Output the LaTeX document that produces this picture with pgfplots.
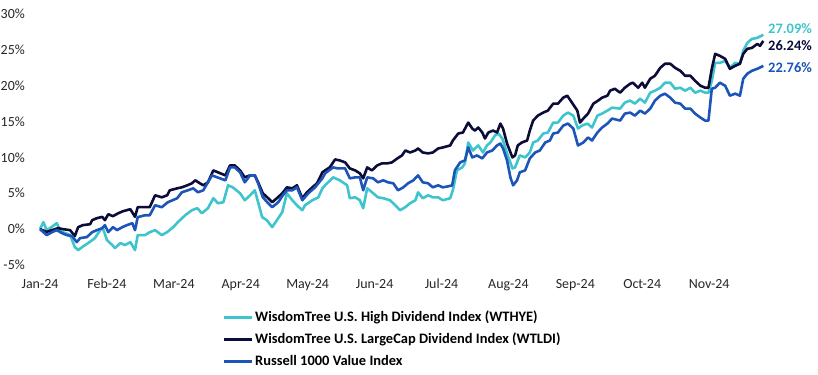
\documentclass[border=0pt]{standalone}
\usepackage{pgfplots}
\pgfplotsset{compat=1.18}
\usepackage{fontspec}
\setmainfont{Carlito}
\definecolor{cLight}{RGB}{62,196,204}
\definecolor{cDark}{RGB}{12,12,56}
\definecolor{cBlue}{RGB}{28,84,184}
\begin{document}
\begin{tikzpicture}
\begin{axis}[
  scale only axis, width=730bp, height=251bp,
  xmin=-0.06, xmax=10.85, ymin=-5, ymax=30,
  axis x line*=bottom, axis y line*=left,
  axis line style={draw=none}, tick style={draw=none},
  xtick={0,1,2,3,4,5,6,7,8,9,10},
  xticklabels={Jan-24,Feb-24,Mar-24,Apr-24,May-24,Jun-24,Jul-24,Aug-24,Sep-24,Oct-24,Nov-24},
  ytick={-5,0,5,10,15,20,25,30},
  yticklabels={-5\%,0\%,5\%,10\%,15\%,20\%,25\%,30\%},
  tick label style={font=\fontsize{14}{16}\selectfont, text=black!85, inner sep=0pt},
  yticklabel style={anchor=east, xshift=-11bp},
  xticklabel style={anchor=north, yshift=-14bp},
  clip=false,
  every axis plot/.append style={line width=2.6bp, line join=round, mark=none},
  legend image code/.code={\draw[#1] (0bp,0bp) -- (28bp,0bp);},
  legend style={at={(rel axis cs:0.256,-0.183)}, anchor=north west, draw=none, fill=none,
    inner sep=0pt, row sep=9bp, font=\fontsize{14.5}{16}\bfseries,
    nodes={inner xsep=1.5bp, inner ysep=0pt, text height=10bp, text depth=3bp},
    cells={anchor=west}},
  legend cell align=left,
]
\addplot[color=cLight] coordinates {
(0,0) (0.05,0.97) (0.10,-0.14) (0.15,0.14) (0.25,0.83) (0.30,-0.14) (0.34,-0.42) (0.45,-0.83) (0.52,-2.5) (0.57,-2.92) (0.63,-2.5) (0.72,-1.94) (0.78,-1.53) (0.82,-1.25) (0.90,-0.14) (0.94,0.14) (1.00,-1.53) (1.08,-2.22) (1.12,-2.64) (1.20,-1.94) (1.27,-2.22) (1.35,-1.81) (1.42,-2.92) (1.46,-0.83) (1.57,-0.83) (1.64,-0.42) (1.72,-0.14) (1.82,-0.83) (1.90,-0.42) (1.99,0.28) (2.06,0.97) (2.17,1.94) (2.27,2.64) (2.35,2.92) (2.42,2.22) (2.51,2.92) (2.59,4.31) (2.66,3.61) (2.74,3.75) (2.81,6.11) (2.88,5.83) (2.99,5.0) (3.06,4.03) (3.14,4.72) (3.21,5.42) (3.26,3.75) (3.32,1.67) (3.39,1.25) (3.47,0.28) (3.54,1.25) (3.62,2.36) (3.69,5.0) (3.77,4.03) (3.84,3.33) (3.92,2.64) (3.96,3.33) (4.07,4.03) (4.16,4.44) (4.22,5.69) (4.26,6.11) (4.38,7.22) (4.48,6.81) (4.59,6.11) (4.63,4.31) (4.71,4.44) (4.78,4.03) (4.83,2.92) (4.89,5.69) (4.98,5.0) (5.05,4.44) (5.13,4.31) (5.23,4.03) (5.31,3.33) (5.38,2.64) (5.46,3.06) (5.53,3.61) (5.61,4.03) (5.65,5.14) (5.72,4.31) (5.80,4.72) (5.87,4.44) (5.95,4.44) (6.02,4.03) (6.13,4.31) (6.17,5.42) (6.23,8.19) (6.31,8.61) (6.35,9.17) (6.40,12.08) (6.47,10.97) (6.55,11.67) (6.62,10.69) (6.68,11.67) (6.73,12.08) (6.80,13.06) (6.85,13.33) (6.91,12.64) (6.98,10.56) (7.06,8.47) (7.10,8.61) (7.17,10.28) (7.25,10.0) (7.32,10.69) (7.37,12.08) (7.44,12.36) (7.52,13.33) (7.59,13.47) (7.67,14.86) (7.74,14.86) (7.82,15.83) (7.89,16.25) (7.97,15.83) (8.04,14.03) (8.10,14.44) (8.18,14.72) (8.25,14.17) (8.33,15.83) (8.40,16.11) (8.48,16.53) (8.55,16.94) (8.67,16.81) (8.74,17.64) (8.82,17.92) (8.89,17.5) (8.97,18.19) (9.04,17.64) (9.12,19.03) (9.19,19.31) (9.27,19.72) (9.34,20.42) (9.42,20.42) (9.49,19.58) (9.57,19.72) (9.64,19.31) (9.72,19.72) (9.79,19.03) (9.87,19.31) (9.94,19.03) (9.99,19.03) (10.04,20.69) (10.09,23.19) (10.16,23.19) (10.24,23.47) (10.31,22.5) (10.39,23.19) (10.46,23.06) (10.51,24.86) (10.57,25.97) (10.64,26.53) (10.72,26.67) (10.81,27.09)
};
\addlegendentry{WisdomTree U.S. High Dividend Index (WTHYE)}
\addplot[color=cDark] coordinates {
(0,0) (0.10,-0.38) (0.18,-0.14) (0.27,0.14) (0.34,0.0) (0.45,-0.14) (0.52,-0.97) (0.57,0.28) (0.64,0.56) (0.75,0.69) (0.78,1.25) (0.85,1.53) (0.93,1.71) (0.97,1.25) (1.02,2.08) (1.09,1.81) (1.17,2.22) (1.24,2.5) (1.35,2.78) (1.42,1.71) (1.46,3.06) (1.57,3.06) (1.64,3.06) (1.72,4.72) (1.82,4.44) (1.90,4.72) (1.94,5.42) (2.05,5.69) (2.12,5.83) (2.20,6.11) (2.27,6.39) (2.32,6.81) (2.39,6.39) (2.44,6.11) (2.51,6.53) (2.59,8.19) (2.66,7.92) (2.77,7.5) (2.84,8.89) (2.91,8.89) (2.99,8.19) (3.06,7.22) (3.14,7.5) (3.21,7.5) (3.26,6.53) (3.33,5.0) (3.41,4.31) (3.47,3.75) (3.54,4.31) (3.62,5.0) (3.69,5.83) (3.77,5.69) (3.84,6.11) (3.92,4.31) (3.99,5.14) (4.07,5.83) (4.14,6.39) (4.22,7.92) (4.26,8.19) (4.33,8.61) (4.41,9.72) (4.48,9.58) (4.56,9.31) (4.63,8.47) (4.71,8.19) (4.78,7.78) (4.83,7.08) (4.89,8.61) (4.96,8.19) (5.04,8.89) (5.11,9.17) (5.19,9.17) (5.26,9.31) (5.34,9.86) (5.41,10.28) (5.46,10.97) (5.53,10.69) (5.61,10.97) (5.65,11.25) (5.72,10.69) (5.80,10.56) (5.87,10.69) (5.95,11.25) (6.02,11.39) (6.13,11.67) (6.17,12.36) (6.25,13.33) (6.32,13.47) (6.40,14.86) (6.46,14.03) (6.50,13.75) (6.55,14.17) (6.61,13.47) (6.65,12.64) (6.70,13.47) (6.77,13.75) (6.83,13.47) (6.88,14.72) (6.92,14.03) (6.98,11.94) (7.06,10.0) (7.10,10.28) (7.14,11.67) (7.20,12.08) (7.28,12.36) (7.32,13.75) (7.37,15.14) (7.44,15.83) (7.52,16.25) (7.59,16.53) (7.67,17.5) (7.74,17.5) (7.82,18.33) (7.88,18.61) (7.95,17.64) (8.03,16.53) (8.07,14.86) (8.12,15.42) (8.19,16.11) (8.27,17.5) (8.34,17.92) (8.40,18.33) (8.48,18.61) (8.52,19.31) (8.59,19.58) (8.67,19.03) (8.74,19.72) (8.82,20.28) (8.86,20.42) (8.94,19.72) (9.00,20.42) (9.04,19.72) (9.12,20.97) (9.19,21.39) (9.27,22.5) (9.34,23.06) (9.42,23.06) (9.49,22.5) (9.57,22.08) (9.64,21.39) (9.72,21.39) (9.79,20.69) (9.87,20.0) (9.94,19.72) (9.99,19.72) (10.04,22.36) (10.09,24.44) (10.16,24.17) (10.24,23.75) (10.31,22.36) (10.39,22.78) (10.46,23.06) (10.51,24.44) (10.57,25.14) (10.64,25.28) (10.72,25.83) (10.76,25.56) (10.81,26.24)
};
\addlegendentry{WisdomTree U.S. LargeCap Dividend Index (WTLDI)}
\addplot[color=cBlue] coordinates {
(0,0) (0.10,-0.83) (0.18,-0.42) (0.25,-0.14) (0.33,-0.56) (0.40,-0.83) (0.48,-0.97) (0.55,-1.81) (0.60,-1.25) (0.70,-1.11) (0.78,-0.42) (0.85,-0.14) (0.93,0.14) (0.97,0.56) (1.02,-0.42) (1.09,0.28) (1.15,-0.14) (1.23,0.28) (1.30,0.56) (1.38,0.83) (1.42,-0.14) (1.46,1.67) (1.57,1.94) (1.64,1.94) (1.72,3.33) (1.82,3.06) (1.91,3.75) (2.05,4.31) (2.12,5.14) (2.21,5.42) (2.29,5.69) (2.36,5.14) (2.44,5.42) (2.57,7.5) (2.65,7.22) (2.77,6.81) (2.84,8.61) (2.91,8.61) (2.99,7.92) (3.06,6.53) (3.14,7.5) (3.21,7.5) (3.26,6.39) (3.33,4.44) (3.41,3.61) (3.47,3.06) (3.56,3.75) (3.63,4.72) (3.69,5.42) (3.77,5.42) (3.84,5.83) (3.92,4.03) (4.01,5.0) (4.11,5.83) (4.22,7.08) (4.26,7.78) (4.38,8.61) (4.45,8.47) (4.56,8.47) (4.63,7.08) (4.71,7.22) (4.78,7.22) (4.83,5.42) (4.89,7.22) (4.98,7.08) (5.05,6.53) (5.13,6.81) (5.20,6.53) (5.28,6.39) (5.35,5.42) (5.43,5.83) (5.50,6.39) (5.58,6.81) (5.65,7.5) (5.72,6.53) (5.80,6.39) (5.87,5.83) (5.95,6.11) (6.02,5.83) (6.10,5.97) (6.16,6.11) (6.20,8.19) (6.28,9.31) (6.35,9.58) (6.40,11.39) (6.46,10.0) (6.53,10.28) (6.61,9.86) (6.68,10.69) (6.76,10.97) (6.83,11.67) (6.88,11.94) (6.92,11.25) (6.98,9.58) (7.03,7.22) (7.07,6.11) (7.13,6.81) (7.17,7.92) (7.25,8.19) (7.32,9.86) (7.40,10.69) (7.47,10.97) (7.55,12.08) (7.62,12.36) (7.67,13.33) (7.74,13.47) (7.82,14.44) (7.89,14.72) (7.97,14.03) (8.04,11.67) (8.12,12.08) (8.19,12.78) (8.25,12.36) (8.33,13.47) (8.40,14.17) (8.48,14.72) (8.55,15.42) (8.67,15.14) (8.74,16.11) (8.82,16.25) (8.89,15.83) (8.97,16.53) (9.04,16.11) (9.12,16.81) (9.19,17.92) (9.27,18.61) (9.34,18.89) (9.42,18.33) (9.49,17.64) (9.57,17.5) (9.64,16.81) (9.72,16.81) (9.79,16.11) (9.87,15.56) (9.94,15.14) (9.99,15.14) (10.04,19.58) (10.09,19.72) (10.16,20.42) (10.24,20.0) (10.31,18.61) (10.39,18.89) (10.46,18.61) (10.51,20.97) (10.57,21.67) (10.64,22.08) (10.72,22.36) (10.81,22.76)
};
\addlegendentry{Russell 1000 Value Index}
\node[anchor=west, inner sep=0pt, text=cLight, font=\fontsize{14.5}{16}\bfseries] at (axis cs:10.88,27.9) {27.09\%};
\node[anchor=west, inner sep=0pt, text=cDark, font=\fontsize{14.5}{16}\bfseries] at (axis cs:10.88,25.56) {26.24\%};
\node[anchor=west, inner sep=0pt, text=cBlue, font=\fontsize{14.5}{16}\bfseries] at (axis cs:10.88,22.5) {22.76\%};
\end{axis}
\pgfresetboundingbox
\path[use as bounding box] ([shift={(-36bp,-110bp)}]current axis.south west) rectangle ([shift={(782bp,265bp)}]current axis.south west);
\end{tikzpicture}
\end{document}
